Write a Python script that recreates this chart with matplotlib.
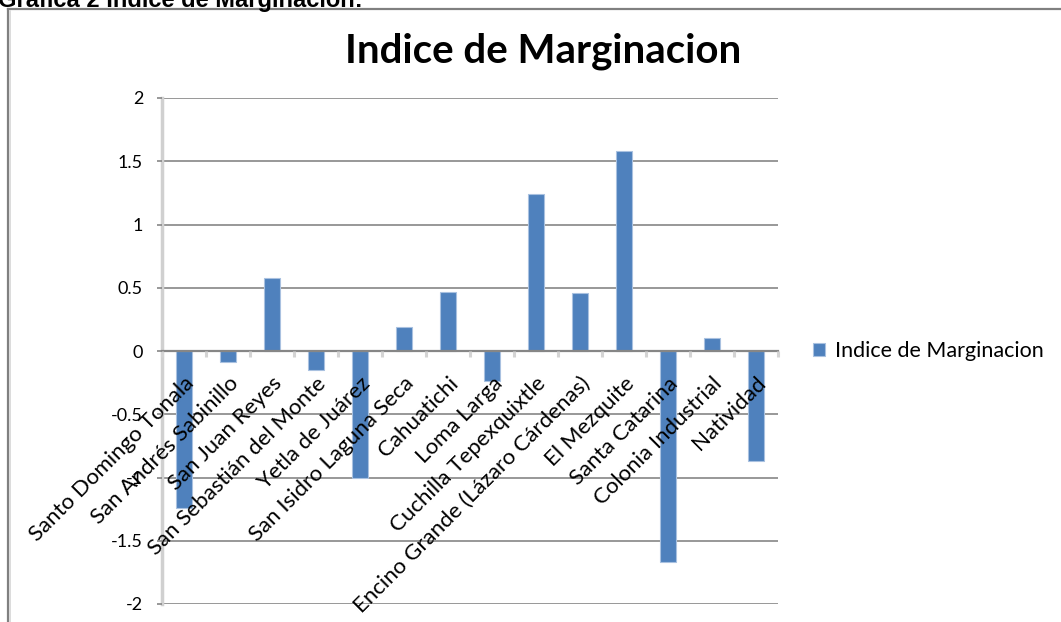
import matplotlib
matplotlib.use("Agg")
import matplotlib.pyplot as plt
import numpy as np
from matplotlib.lines import Line2D

plt.rcParams['font.family'] = ['Lato', 'DejaVu Sans']

# data
localidades = [
    "Santo Domingo Tonala", "San Andrés Sabinillo", "San Juan Reyes",
    "San Sebastián del Monte", "Yetla de Juárez", "San Isidro Laguna Seca",
    "Cahuatichi", "Loma Larga", "Cuchilla Tepexquixtle",
    "Encino Grande (Lázaro Cárdenas)", "El Mezquite", "Santa Catarina",
    "Colonia Industrial", "Natividad",
]
indice = [-1.24, -0.09, 0.58, -0.15, -1.0, 0.19, 0.47, -0.24, 1.24,
          0.46, 1.58, -1.67, 0.10, -0.87]
y_ticks = [-2, -1.5, -1, -0.5, 0, 0.5, 1, 1.5, 2]
serie = "Indice de Marginacion"

W, H = 1061, 622
fig = plt.figure(figsize=(W / 100, H / 100), dpi=100)
ax = fig.add_axes([162 / W, 1 - 604 / H, 616 / W, 506 / H])

# gridlines under the bars, axis labels above them
for v in y_ticks:
    ax.axhline(v, color='#868686', linewidth=1.2, zorder=0)

x = np.arange(len(localidades))
ax.bar(x, indice, width=0.37, color='#4F81BD', edgecolor='#A9C1E0',
       linewidth=0.8, label=serie, zorder=1)
ax.set_axisbelow(False)

ax.set_xlim(-0.5, len(localidades) - 0.5)
ax.set_ylim(-2, 2)
ax.set_yticks(y_ticks)
ax.set_yticklabels([f"{v:g}" for v in y_ticks], fontsize=13)
ax.tick_params(axis='y', direction='out', length=3.6, width=1.2,
               color='#868686', pad=10)

# category axis crosses at zero
ax.spines['bottom'].set_position(('data', 0))
ax.spines['bottom'].set_color('#868686')
ax.spines['bottom'].set_linewidth(1.6)
ax.spines['left'].set_color('#d0d0d0')
ax.spines['left'].set_linewidth(2.5)
ax.spines['top'].set_visible(False)
ax.spines['right'].set_visible(False)

ax.set_xticks(x)
ax.set_xticklabels(localidades, rotation=45, ha='right', va='top',
                   rotation_mode='anchor', fontsize=16)
ax.tick_params(axis='x', which='major', length=0, pad=16)
ax.set_xticks(np.arange(-0.5, len(localidades), 1), minor=True)
ax.tick_params(axis='x', which='minor', direction='out', length=4.5,
               width=2.2, color='#d4d4d4')

fig.text(543 / W, 1 - 63 / H, serie, ha='center', va='baseline',
         fontsize=29, fontweight='bold')

ax.legend(loc='center left', bbox_to_anchor=(813 / W, 1 - 351 / H),
          bbox_transform=fig.transFigure, frameon=False, fontsize=15.5,
          handlelength=0.55, handleheight=0.55, handletextpad=0.45,
          borderpad=0, borderaxespad=0)

# caption cut off at the top of the page
fig.text(-0.002, 1 - 7 / H, "Grafica 2 Indice de Marginacion:", ha='left',
         va='baseline', fontsize=17, fontweight='bold',
         family=['Liberation Sans', 'DejaVu Sans'])

# chart frame (only top and left edges visible)
fig.add_artist(Line2D([8 / W, 1.0], [1 - 9 / H, 1 - 9 / H],
                      color='#808080', linewidth=1.6))
fig.add_artist(Line2D([8 / W, 8 / W], [0, 1 - 9 / H],
                      color='#808080', linewidth=1.6))
fig.add_artist(Line2D([10 / W, 10 / W], [0, 1 - 11 / H],
                      color='#dcdcdc', linewidth=1.4))

fig.savefig("out.png", dpi=100)
